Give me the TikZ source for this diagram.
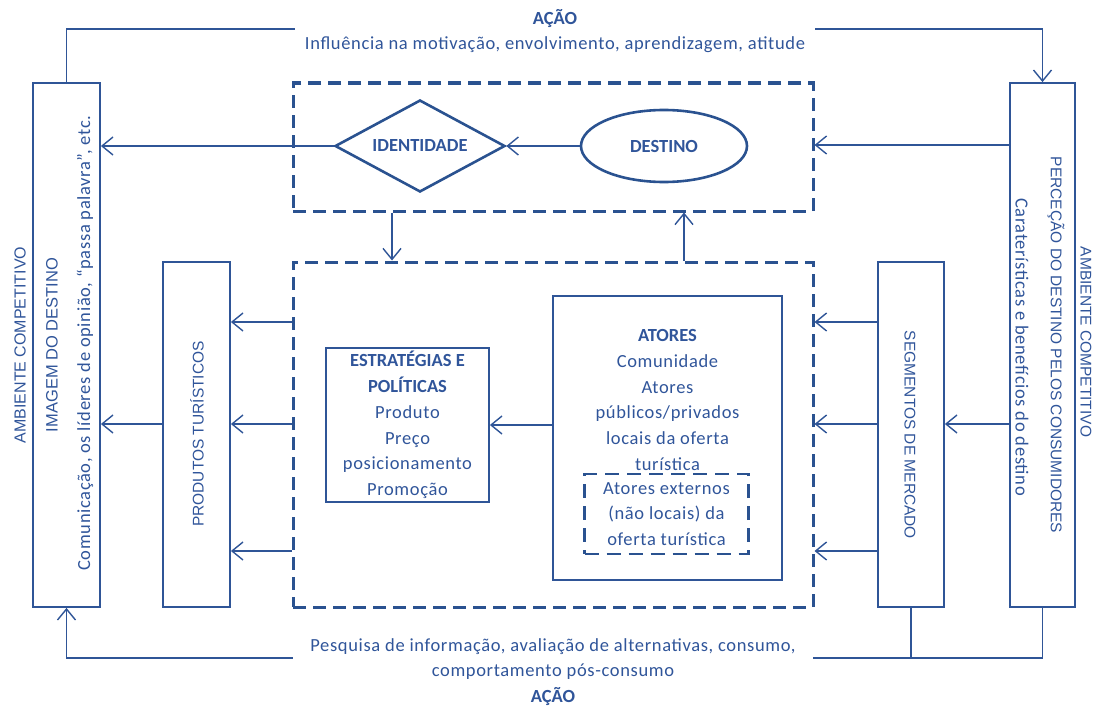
\documentclass[tikz,border=0pt]{standalone}
\usepackage{fontspec}
\setmainfont{Carlito}
\newfontfamily\widefont[LetterSpace=3.5]{Carlito}
\newfontfamily\sidefont{Liberation Sans}
\usetikzlibrary{shapes.geometric,arrows.meta}
\definecolor{lblue}{HTML}{2F5597}
\definecolor{dblue}{HTML}{2A5290}
\definecolor{tblue}{HTML}{30559A}
\newcommand{\hd}[1]{{\normalfont\bfseries #1}}
\begin{document}
\begin{tikzpicture}[x=1pt,y=-1pt,
  line/.style={draw=lblue, line width=1.4pt},
  arr/.style={line, -{Straight Barb[length=11pt,width=18pt,line width=1.4pt]}},
  box/.style={draw=lblue, line width=1.8pt, inner sep=0pt},
  dbox/.style={draw=dblue, line width=3pt, dash pattern=on 13pt off 7pt, inner sep=0pt},
  idbox/.style={draw=dblue, line width=2.6pt, dash pattern=on 14pt off 8pt, inner sep=0pt},
  txt/.style={text=tblue, font=\widefont\fontsize{18.5}{25.7}\selectfont, align=center, inner sep=0pt},
  bold/.style={text=tblue, font=\normalfont\bfseries\fontsize{18.5}{20}\selectfont, inner sep=0pt},
  side/.style={text=tblue, font=\sidefont\fontsize{15.5}{18}\selectfont, inner sep=0pt},
  ribbon/.style={txt, fill=white, minimum width=520pt},
]
\useasboundingbox (0,0) rectangle (1095,709);

% outer columns
\node[box, minimum width=67pt, minimum height=524pt] (img) at (66.5,345) {};
\node[box, minimum width=65pt, minimum height=524pt] (perc) at (1042.5,345) {};
\node[box, minimum width=67pt, minimum height=345pt] (prod) at (196.5,434.5) {};
\node[box, minimum width=66pt, minimum height=345pt] (seg) at (911,434.5) {};

% dashed frames
\node[dbox, minimum width=520pt, minimum height=128pt] (top) at (553,147) {};
\node[dbox, minimum width=520pt, minimum height=345pt] (bot) at (553,434.5) {};

% destination and identity
\node[draw=dblue, line width=2.6pt, shape=diamond, aspect=1.85, minimum width=170pt, minimum height=92pt,
      bold] (ident) at (420,146) {IDENTIDADE};
\node[draw=dblue, line width=2.6pt, shape=ellipse, minimum width=166pt, minimum height=72pt,
      bold] (dest) at (664,146) {DESTINO};

% strategies and actors
\node[box, txt, minimum width=163pt, minimum height=154pt] (estr) at (407.5,425)
  {\hd{ESTRATÉGIAS E}\\\hd{POLÍTICAS}\\Produto\\Preço\\posicionamento\\Promoção};
\node[box, minimum width=229pt, minimum height=284pt] (atores) at (667.5,438) {};
\node[txt] (atoresTxt) at (667.5,400)
  {\hd{ATORES}\\Comunidade\\Atores\\públicos/privados\\locais da oferta\\turística};
\node[idbox, txt, minimum width=164pt, minimum height=80pt] (ext) at (666.5,514)
  {Atores externos\\(não locais) da\\oferta turística};

% rotated labels
\node[side, rotate=90, font=\sidefont\fontsize{16}{18}\selectfont] (ambL) at (20,345) {AMBIENTE COMPETITIVO};
\node[side, rotate=90, font=\sidefont\fontsize{16.5}{18}\selectfont] (imgT) at (52,345) {IMAGEM DO DESTINO};
\node[txt, rotate=90] (imgS) at (85,343)
  {Comunicação, os líderes de opinião, “passa palavra”, etc.};
\node[side, rotate=-90] (ambR) at (1086,342) {AMBIENTE COMPETITIVO};
\node[side, rotate=-90] (percT) at (1056,345) {PERCEÇÃO DO DESTINO PELOS CONSUMIDORES};
\node[txt, rotate=-90] (percS) at (1022,347)
  {Caraterísticas e benefícios do destino};
\node[side, rotate=90] (prodT) at (197,434) {PRODUTOS TURÍSTICOS};
\node[side, rotate=-90] (segT) at (910,435) {SEGMENTOS DE MERCADO};

% action loop
\draw[arr] (img.north) -- ++(0,-53) -| (perc.north);
\node[ribbon] (acaoTop) at (555,31)
  {\hd{AÇÃO}\\Influência na motivação, envolvimento, aprendizagem, atitude};
\draw[line] (seg.south) -- ++(0,50);
\draw[arr] (perc.south) -- ++(0,50) -| (img.south);
\node[ribbon] (acaoBot) at (553,672)
  {Pesquisa de informação, avaliação de alternativas, consumo,\\comportamento pós-consumo\\\hd{AÇÃO}};

% flows in the upper frame
\draw[arr] (dest.west) -- (ident.east);
\draw[arr] (ident.west) -- (img.east |- ident.west);
\draw[arr] (perc.west |- 0,145) -- (top.east |- 0,145);
\draw[arr] (top.south -| 392,0) -- (bot.north -| 392,0);
\draw[arr] (bot.north -| 684,0) -- (top.south -| 684,0);

% flows out of the lower frame
\foreach \yy in {322,424,551} {
  \draw[arr] (bot.west |- 0,\yy) -- (prod.east |- 0,\yy);
  \draw[arr] (seg.west |- 0,\yy) -- (bot.east |- 0,\yy);
}
\draw[arr] (prod.west |- 0,424) -- (img.east |- 0,424);
\draw[arr] (perc.west |- 0,424) -- (seg.east |- 0,424);
\draw[arr] (atores.west |- 0,425) -- (estr.east |- 0,425);
\end{tikzpicture}
\end{document}
